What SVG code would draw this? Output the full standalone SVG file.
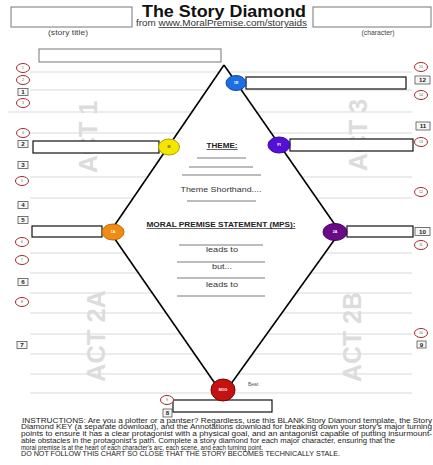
<svg xmlns="http://www.w3.org/2000/svg" width="433" height="465" viewBox="0 0 433 465">
<style>
text{font-family:"Liberation Sans",Arial,sans-serif;}
.hdrbox{fill:#fff;stroke:#777;stroke-width:1;}
.wide{fill:#fff;stroke:#111;stroke-width:1.2;}
.guide{stroke:#d9d9d9;stroke-width:1;}
.edge{stroke:#000;stroke-width:1.6;fill:none;}
.rc{fill:#fff;stroke:#a02828;stroke-width:1;}
.rct{font-size:3.4px;fill:#555;text-anchor:middle;}
.nb{fill:#f6f6f6;stroke:#555;stroke-width:0.8;}
.nbt{font-size:6.2px;font-weight:bold;fill:#222;text-anchor:middle;}
.act{font-size:26px;font-weight:bold;fill:#dcdcdc;text-anchor:middle;}
.ct{font-size:7px;fill:#333;text-anchor:middle;}
.ctb{font-size:7px;font-weight:bold;fill:#222;text-anchor:middle;text-decoration:underline;}
.ul{stroke:#444;stroke-width:0.7;}
.lbl{font-size:3.6px;fill:#fff;text-anchor:middle;font-weight:bold;}
.ins{font-size:6.3px;fill:#222;}
.small{font-size:7px;fill:#444;text-anchor:middle;}
</style>

<rect width="433" height="465" fill="#fff"/>

<!-- header -->
<g id="header">
  <rect class="hdrbox" x="11" y="7" width="121" height="20"/>
  <rect class="hdrbox" x="313" y="7" width="118" height="20"/>
  <text x="142" y="17" font-size="16" font-weight="bold" fill="#111" textLength="164" lengthAdjust="spacingAndGlyphs">The Story Diamond</text>
  <text x="136" y="26" font-size="8.2" fill="#333" textLength="171" lengthAdjust="spacingAndGlyphs">from <tspan text-decoration="underline">www.MoralPremise.com/storyaids</tspan></text>
  <text class="small" x="68" y="35" textLength="40" lengthAdjust="spacingAndGlyphs">(story title)</text>
  <text class="small" x="378" y="35" textLength="33" lengthAdjust="spacingAndGlyphs">(character)</text>
</g>

<!-- guide lines -->
<g id="guides">
  <line class="guide" x1="30" y1="72" x2="412" y2="72"/>
  <line class="guide" x1="30" y1="90" x2="412" y2="90"/>
  <line class="guide" x1="8" y1="112" x2="412" y2="112"/>
  <line class="guide" x1="30" y1="133" x2="412" y2="133"/>
  <line class="guide" x1="30" y1="177" x2="412" y2="177"/>
  <line class="guide" x1="30" y1="198" x2="412" y2="198"/>
  <line class="guide" x1="30" y1="253" x2="412" y2="253"/>
  <line class="guide" x1="30" y1="273" x2="412" y2="273"/>
  <line class="guide" x1="30" y1="293" x2="412" y2="293"/>
  <line class="guide" x1="30" y1="313" x2="412" y2="313"/>
  <line class="guide" x1="30" y1="334" x2="412" y2="334"/>
  <line class="guide" x1="30" y1="354" x2="412" y2="354"/>
  <line class="guide" x1="30" y1="374" x2="412" y2="374"/>
  <line class="guide" x1="30" y1="393" x2="412" y2="393"/>
</g>

<!-- act watermarks -->
<g id="acts">
  <text class="act" transform="translate(97,137) rotate(-90)" textLength="72" lengthAdjust="spacingAndGlyphs">ACT 1</text>
  <text class="act" transform="translate(367,135) rotate(-90)" textLength="72" lengthAdjust="spacingAndGlyphs">ACT 3</text>
  <text class="act" transform="translate(105,336) rotate(-90)" textLength="92" lengthAdjust="spacingAndGlyphs">ACT 2A</text>
  <text class="act" transform="translate(361,337) rotate(-90)" textLength="90" lengthAdjust="spacingAndGlyphs">ACT 2B</text>
</g>

<!-- diamond interior -->
<polygon points="224,65 340,232 223,395 110,232" fill="#fff"/>

<!-- top box -->
<g id="top-box"><rect class="wide" x="39" y="49" width="182" height="13" stroke="#777" style="stroke:#777;stroke-width:1"/></g>

<!-- connectors: diamond edges -->
<g id="connectors">
  <line class="edge" x1="224" y1="65" x2="340" y2="232"/>
  <line class="edge" x1="340" y1="232" x2="223" y2="395"/>
  <line class="edge" x1="223" y1="395" x2="110" y2="232"/>
  <line class="edge" x1="110" y1="232" x2="224" y2="65"/>
</g>

<!-- center text -->
<g id="theme">
  <text class="ctb" x="222" y="148" textLength="31" lengthAdjust="spacingAndGlyphs">THEME:</text>
  <line class="ul" x1="197" y1="158" x2="246" y2="158"/>
  <line class="ul" x1="189" y1="167" x2="253" y2="167"/>
  <line class="ul" x1="182" y1="175" x2="261" y2="175"/>
  <text class="ct" x="221" y="192" textLength="81" lengthAdjust="spacingAndGlyphs">Theme Shorthand....</text>
  <line class="ul" x1="187" y1="201" x2="256" y2="201"/>
</g>
<g id="mps">
  <text class="ctb" x="221" y="227" textLength="149" lengthAdjust="spacingAndGlyphs">MORAL PREMISE STATEMENT (MPS):</text>
  <line class="ul" x1="179" y1="245" x2="263" y2="245"/>
  <text class="ct" x="222" y="252" textLength="32" lengthAdjust="spacingAndGlyphs">leads to</text>
  <line class="ul" x1="177" y1="262" x2="265" y2="262"/>
  <text class="ct" x="222" y="269" textLength="20" lengthAdjust="spacingAndGlyphs">but...</text>
  <line class="ul" x1="177" y1="278" x2="265" y2="278"/>
  <text class="ct" x="222" y="287" textLength="32" lengthAdjust="spacingAndGlyphs">leads to</text>
  <line class="ul" x1="177" y1="296" x2="265" y2="296"/>
</g>

<!-- turning point nodes -->
<g id="node-1R">
  <rect class="wide" x="246" y="77" width="160" height="12"/>
  <ellipse cx="236" cy="83" rx="10" ry="7.5" fill="#1c6fe0" stroke="#0b4aa8" stroke-width="1"/>
  <text class="lbl" x="236" y="84.3">1R</text>
</g>
<g id="node-PI">
  <rect class="wide" x="290" y="139" width="123" height="12"/>
  <ellipse cx="279" cy="145" rx="11" ry="8" fill="#5510d8" stroke="#38089a" stroke-width="1"/>
  <text class="lbl" x="279" y="146.3">PI</text>
</g>
<g id="node-M">
  <rect class="wide" x="33" y="141" width="126" height="12"/>
  <ellipse cx="169" cy="147" rx="10.5" ry="8" fill="#f5e600" stroke="#b0a000" stroke-width="1"/>
  <text class="lbl" x="169" y="148.3" style="fill:#665500">M</text>
</g>
<g id="node-1A">
  <rect class="wide" x="32" y="226" width="70" height="11"/>
  <ellipse cx="113" cy="232" rx="11" ry="8" fill="#f08c14" stroke="#c06800" stroke-width="1"/>
  <text class="lbl" x="113" y="233.3">1A</text>
</g>
<g id="node-2A">
  <rect class="wide" x="347" y="226" width="66" height="11"/>
  <ellipse cx="335" cy="232" rx="12" ry="8.5" fill="#6a0a88" stroke="#48005e" stroke-width="1"/>
  <text class="lbl" x="335" y="233.3">2A</text>
</g>
<g id="node-MOG">
  <rect class="wide" x="173" y="400" width="99" height="12"/>
  <ellipse cx="223" cy="390" rx="12" ry="11" fill="#c41212" stroke="#7a0000" stroke-width="1"/>
  <text class="lbl" x="223" y="391.3">MOG</text>
  <text x="248" y="386" font-size="5" fill="#555">Beat</text>
</g>

<!-- red scene circles -->
<g id="scenes">
  <g id="c1"><ellipse class="rc" cx="23" cy="68" rx="6.5" ry="4.5"/><text class="rct" x="23" y="69.2">1</text></g>
  <g id="c2"><ellipse class="rc" cx="23" cy="80" rx="6.5" ry="4.5"/><text class="rct" x="23" y="81.2">2</text></g>
  <g id="c3"><ellipse class="rc" cx="23" cy="103" rx="6.5" ry="4.5"/><text class="rct" x="23" y="104.2">3</text></g>
  <g id="c4"><ellipse class="rc" cx="23" cy="133" rx="6.5" ry="4.5"/><text class="rct" x="23" y="134.2">4</text></g>
  <g id="c5"><ellipse class="rc" cx="22" cy="181" rx="6.5" ry="4.5"/><text class="rct" x="22" y="182.2">5</text></g>
  <g id="c6"><ellipse class="rc" cx="22" cy="242" rx="6.5" ry="4.5"/><text class="rct" x="22" y="243.2">6</text></g>
  <g id="c7"><ellipse class="rc" cx="22" cy="260" rx="6.5" ry="4.5"/><text class="rct" x="22" y="261.2">7</text></g>
  <g id="c8"><ellipse class="rc" cx="22" cy="302" rx="6.5" ry="4.5"/><text class="rct" x="22" y="303.2">8</text></g>
  <g id="c9"><ellipse class="rc" cx="167" cy="400" rx="6.5" ry="4.5"/><text class="rct" x="167" y="401.2">9</text></g>
  <g id="c10"><ellipse class="rc" cx="421" cy="333" rx="6.5" ry="4.5"/><text class="rct" x="421" y="334.2">10</text></g>
  <g id="c11"><ellipse class="rc" cx="421" cy="245" rx="6.5" ry="4.5"/><text class="rct" x="421" y="246.2">11</text></g>
  <g id="c12"><ellipse class="rc" cx="421" cy="192" rx="6.5" ry="4.5"/><text class="rct" x="421" y="193.2">12</text></g>
  <g id="c13"><ellipse class="rc" cx="421" cy="142" rx="6.5" ry="4.5"/><text class="rct" x="421" y="143.2">13</text></g>
  <g id="c14"><ellipse class="rc" cx="421" cy="95" rx="6.5" ry="4.5"/><text class="rct" x="421" y="96.2">14</text></g>
  <g id="c15"><ellipse class="rc" cx="421" cy="67" rx="6.5" ry="4.5"/><text class="rct" x="421" y="68.2">15</text></g>
</g>

<!-- numbered boxes -->
<g id="numbers">
  <g id="n1"><rect class="nb" x="18" y="88.5" width="10" height="7"/><text class="nbt" x="23" y="94.3">1</text></g>
  <g id="n2"><rect class="nb" x="18" y="140.5" width="10" height="7"/><text class="nbt" x="23" y="146.3">2</text></g>
  <g id="n3"><rect class="nb" x="18" y="161.5" width="10" height="7"/><text class="nbt" x="23" y="167.3">3</text></g>
  <g id="n4"><rect class="nb" x="18" y="201.5" width="10" height="7"/><text class="nbt" x="23" y="207.3">4</text></g>
  <g id="n5"><rect class="nb" x="18" y="216.5" width="10" height="7"/><text class="nbt" x="23" y="222.3">5</text></g>
  <g id="n6"><rect class="nb" x="18" y="278.5" width="10" height="7"/><text class="nbt" x="23" y="284.3">6</text></g>
  <g id="n7"><rect class="nb" x="17" y="341.5" width="10" height="7"/><text class="nbt" x="22" y="347.3">7</text></g>
  <g id="n8"><rect class="nb" x="163" y="409" width="9" height="8"/><text class="nbt" x="167.5" y="415.2">8</text></g>
  <g id="n9"><rect class="nb" x="417" y="341" width="9" height="7"/><text class="nbt" x="421.5" y="346.8">9</text></g>
  <g id="n10"><rect class="nb" x="415" y="227.5" width="15" height="8"/><text class="nbt" x="422.5" y="233.8">10</text></g>
  <g id="n11"><rect class="nb" x="416" y="122" width="14" height="8"/><text class="nbt" x="423" y="128.3">11</text></g>
  <g id="n12"><rect class="nb" x="415" y="76" width="15" height="8"/><text class="nbt" x="422.5" y="82.3">12</text></g>
</g>

<!-- instructions -->
<g id="instructions">
  <text class="ins" x="22" y="422.7" textLength="410" lengthAdjust="spacingAndGlyphs">INSTRUCTIONS: Are you a plotter or a pantser? Regardless, use this BLANK Story Diamond template, the Story</text>
  <text class="ins" x="21" y="429.4" textLength="411" lengthAdjust="spacingAndGlyphs">Diamond KEY (a separate download), and the Annotations download for breaking down your story's major turning</text>
  <text class="ins" x="21" y="436.1" textLength="411" lengthAdjust="spacingAndGlyphs">points to ensure it has a clear protagonist with a physical goal, and an antagonist capable of putting insurmount-</text>
  <text class="ins" x="21" y="442.8" textLength="374" lengthAdjust="spacingAndGlyphs">able obstacles in the protagonist's path. Complete a story diamond for each major character, ensuring that the</text>
  <text class="ins" x="21" y="449.5" textLength="242" lengthAdjust="spacingAndGlyphs">moral premise is at the heart of each character's arc, each scene, and each turning point.</text>
  <text class="ins" x="21" y="456.2" textLength="319" lengthAdjust="spacingAndGlyphs">DO NOT FOLLOW THIS CHART SO CLOSE THAT THE STORY BECOMES TECHNICALLY STALE.</text>
</g>
</svg>
